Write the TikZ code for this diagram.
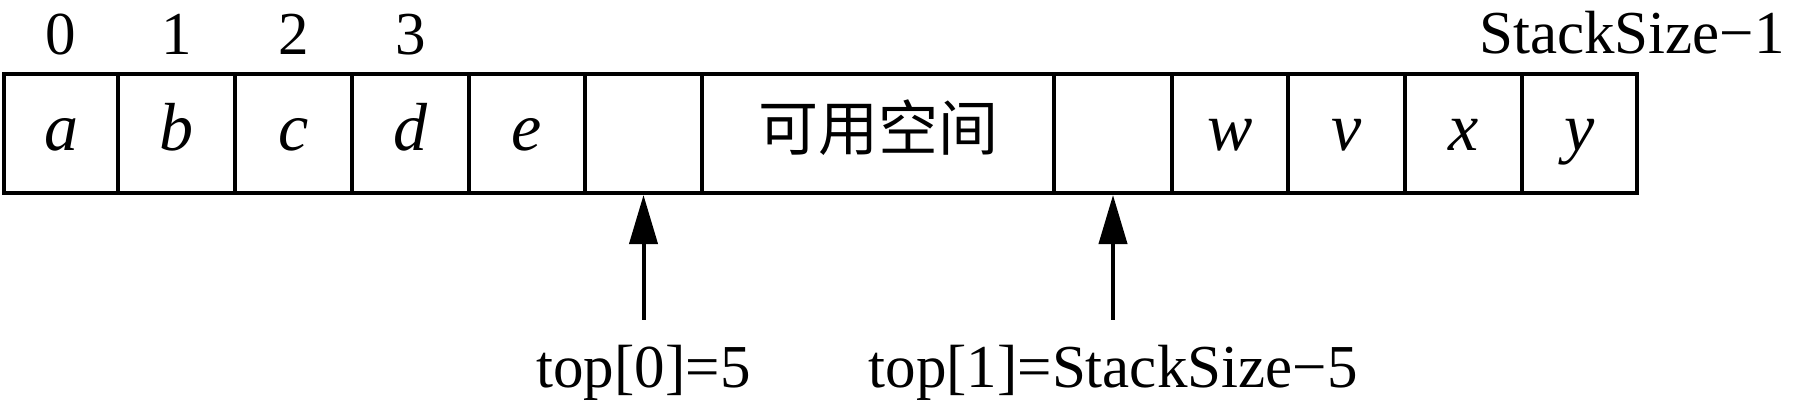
\documentclass[tikz,border=0pt]{standalone}
\usepackage{fontspec}
\setmainfont{Liberation Serif}
\newfontfamily\cjk{Noto Sans CJK SC}
\usetikzlibrary{arrows.meta}
\tikzset{
  cellbox/.style={draw=black, line width=2pt, rectangle, inner sep=0pt, outer sep=0pt,
    minimum height=59.5pt, text height=22pt, text depth=5.5pt,
    font=\fontsize{34}{40}\selectfont\itshape},
  idx/.style={anchor=base, inner sep=0pt, font=\fontsize{30.5}{36}\selectfont},
  ptr/.style={anchor=base, inner xsep=0pt, inner ysep=12.5pt, text height=21pt, text depth=6pt,
    font=\fontsize{30.5}{36}\selectfont},
  ptrarrow/.style={line width=2pt, -{Triangle[length=24.5pt, width=14pt]}, shorten >=1pt}
}
\begin{document}
\begin{tikzpicture}[x=0.5pt, y=-0.5pt]
\useasboundingbox (0,0) rectangle (1794,404);
% cells
\node[cellbox, minimum width=57pt]   (c0)  at (61,133.5)    {a};
\node[cellbox, minimum width=58.5pt] (c1)  at (176.5,133.5) {b};
\node[cellbox, minimum width=58.5pt] (c2)  at (293.5,133.5) {c};
\node[cellbox, minimum width=58.5pt] (c3)  at (410.5,133.5) {d};
\node[cellbox, minimum width=58pt]   (c4)  at (527,133.5)   {e};
\node[cellbox, minimum width=58.5pt] (c5)  at (643.5,133.5) {};
\node[cellbox, minimum width=176pt, font=\fontsize{30}{36}\selectfont\cjk] (c6) at (878,133.5) {可用空间};
\node[cellbox, minimum width=59pt]   (c7)  at (1113,133.5)  {};
\node[cellbox, minimum width=58pt]   (c8)  at (1230,133.5)  {w};
\node[cellbox, minimum width=58.5pt] (c9)  at (1346.5,133.5) {v};
\node[cellbox, minimum width=58.5pt] (c10) at (1463.5,133.5) {x};
\node[cellbox, minimum width=57.5pt] (c11) at (1579.5,133.5) {y};
% index labels
\node[idx] (i0) at (61,54)    {0};
\node[idx] (i1) at (176.5,54) {1};
\node[idx] (i2) at (293.5,54) {2};
\node[idx] (i3) at (410.5,54) {3};
\node[idx, anchor=base east] (iN) at (1785,53) {StackSize−1};
% pointers
\node[ptr] (t0) at (643.5,387) {top[0]=5};
\node[ptr] (t1) at (1113,387)  {top[1]=StackSize−5};
\draw[ptrarrow] (t0.north) -- (c5.south);
\draw[ptrarrow] (t1.north) -- (c7.south);
\end{tikzpicture}
\end{document}
